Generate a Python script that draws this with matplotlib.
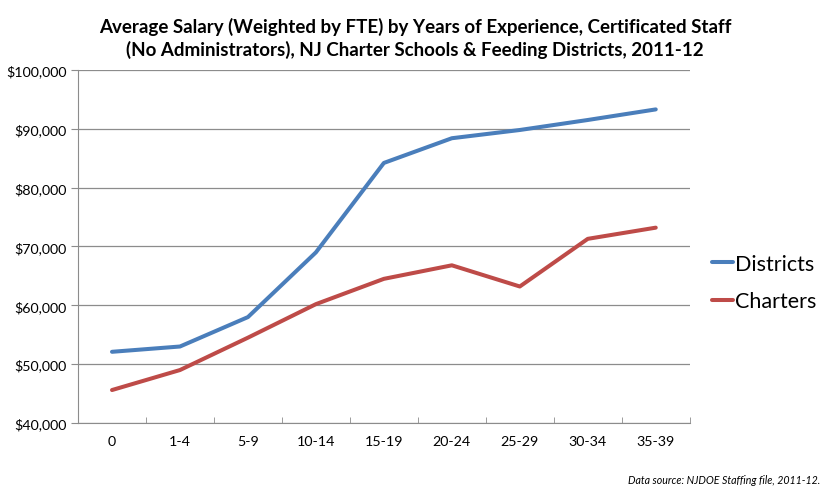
import matplotlib
matplotlib.use("Agg")
import matplotlib.pyplot as plt
from matplotlib.ticker import FuncFormatter

plt.rcParams["font.family"] = ["Lato", "DejaVu Sans"]

BLUE = "#4a7ebb"
RED = "#be4b48"
GRID = "#8c8c8c"
INK = "#000000"

categories = ["0", "1-4", "5-9", "10-14", "15-19", "20-24", "25-29", "30-34", "35-39"]
districts = [52100, 53000, 58000, 69000, 84200, 88400, 89800, 91500, 93300]
charters = [45600, 49000, 54500, 60200, 64500, 66800, 63200, 71300, 73200]
y_ticks = [40000, 50000, 60000, 70000, 80000, 90000, 100000]

fig = plt.figure(figsize=(8.3, 5.02), dpi=100)
ax = fig.add_axes([0.094, 0.1554, 0.737, 0.7032])

x = range(len(categories))
ax.plot(x, districts, color=BLUE, linewidth=2.9, label="Districts", solid_capstyle="round")
ax.plot(x, charters, color=RED, linewidth=2.9, label="Charters", solid_capstyle="round")

ax.set_xlim(-0.5, len(categories) - 0.5)
ax.set_ylim(40000, 100000)
ax.set_yticks(y_ticks)
ax.yaxis.set_major_formatter(FuncFormatter(lambda v, p: f"${int(v):,}"))
ax.set_xticks(list(x))
ax.set_xticklabels(categories)
ax.set_xticks([i - 0.5 for i in range(len(categories) + 1)], minor=True)
ax.tick_params(axis="x", which="major", length=0, pad=9, labelsize=10.3)
ax.tick_params(axis="x", which="minor", length=4, color=GRID, direction="in")
ax.tick_params(axis="y", length=5, color=GRID, labelsize=10.3, pad=3)

ax.yaxis.grid(True, color=GRID, linewidth=0.9)
ax.set_axisbelow(True)
for s in ["top", "right"]:
    ax.spines[s].set_visible(False)
ax.spines["left"].set_color(GRID)
ax.spines["bottom"].set_color(GRID)

leg = fig.legend(loc="center left", bbox_to_anchor=(0.835, 0.435), frameon=False,
                 fontsize=15.5, handlelength=0.95, handletextpad=0.08, labelspacing=0.8)

fig.text(0.5, 0.923, "Average Salary (Weighted by FTE) by Years of Experience, Certificated Staff\n"
         "(No Administrators), NJ Charter Schools & Feeding Districts, 2011-12",
         ha="center", va="center", fontsize=13.5, fontweight="bold", linespacing=1.35)

fig.text(0.988, 0.043, "Data source: NJDOE Staffing file, 2011-12.", ha="right", va="center",
         fontsize=7.7, style="italic")

fig.savefig("out.png", dpi=100, facecolor="white")
